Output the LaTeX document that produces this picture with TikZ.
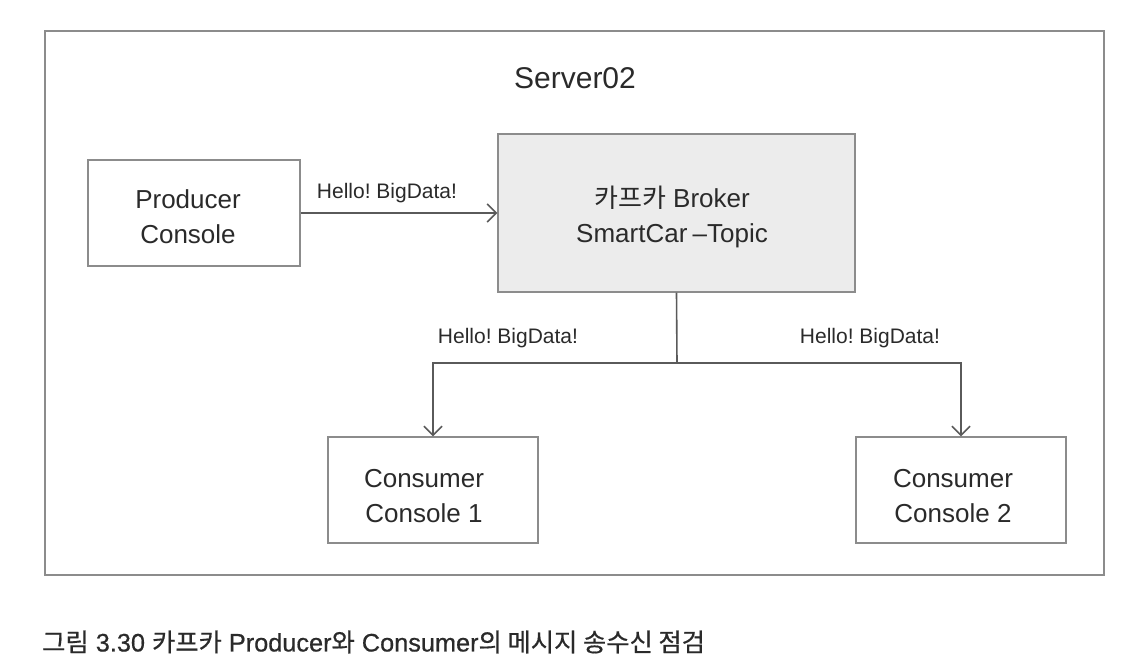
\documentclass[tikz,border=0pt]{standalone}
\usepackage{fontspec}
\setmainfont{Liberation Sans}
\newfontfamily\kr{Noto Sans CJK KR}
\newfontfamily\caplat{Liberation Sans}[FakeBold=0.6]
\newfontfamily\capkr{Noto Sans CJK KR}[FakeBold=0.6]
\usetikzlibrary{arrows.meta}
\definecolor{boxline}{HTML}{8C8C8C}
\definecolor{wire}{HTML}{5A5A5A}
\definecolor{txt}{HTML}{2A2A2A}
\definecolor{brokerfill}{HTML}{ECECEC}
\tikzset{
  x=1pt, y=-1pt,
  box/.style={draw=boxline, line width=1.3pt, minimum width=#1, minimum height=106pt, inner sep=0pt},
  boxtext/.style={align=center, text=txt, font=\fontsize{26}{35}\selectfont, inner sep=0pt},
  msg/.style={text=txt, font=\fontsize{21}{24}\selectfont, inner sep=0pt},
  wireline/.style={draw=wire, line width=1.6pt},
  arr/.style={wireline, -{Straight Barb[length=9pt,width=18pt,line width=1.6pt]}}
}
\begin{document}
\begin{tikzpicture}
\useasboundingbox (0,0) rectangle (1136,666);
\draw[draw=boxline, line width=1.4pt] (45,31) rectangle (1104,575);
\node[text=txt, font=\fontsize{30}{34}\selectfont, inner sep=0pt] (title) at (575,78) {Server02};
\node[box=212pt] (prod) at (194,213) {};
\node[box=357pt, minimum height=158pt, fill=brokerfill] (broker) at (676.5,213) {};
\node[box=210pt] (c1) at (433,490) {};
\node[box=210pt] (c2) at (961,490) {};
\node[boxtext] (prodt) at (188,217) {Producer\\Console};
\node[boxtext] (brokert) at (672,217) {{\kr 카프카} Broker\\SmartCar {\kern-2pt}–Topic};
\node[boxtext] (c1t) at (424,496) {Consumer\\Console 1};
\node[boxtext] (c2t) at (953,496) {Consumer\\Console 2};
\coordinate (j) at (677,363);
\draw[arr] (prod.east) -- (broker.west);
\draw[wireline] (broker.south) -- (j);
\draw[arr] (j) -| (c1.north);
\draw[arr] (j) -| (c2.north);
\node[msg] (m1) at (387,193) {Hello!\ BigData!};
\node[msg] (m2) at (508,338) {Hello!\ BigData!};
\node[msg] (m3) at (870,338) {Hello!\ BigData!};
\node[anchor=west, text=txt, font=\caplat\fontsize{25.3}{30}\selectfont, inner sep=0pt] (cap) at (42,642) {{\capkr 그림} 3.30 {\capkr 카프카} Producer{\capkr 와} Consumer{\capkr 의 메시지 송수신 점검}};
\end{tikzpicture}
\end{document}
